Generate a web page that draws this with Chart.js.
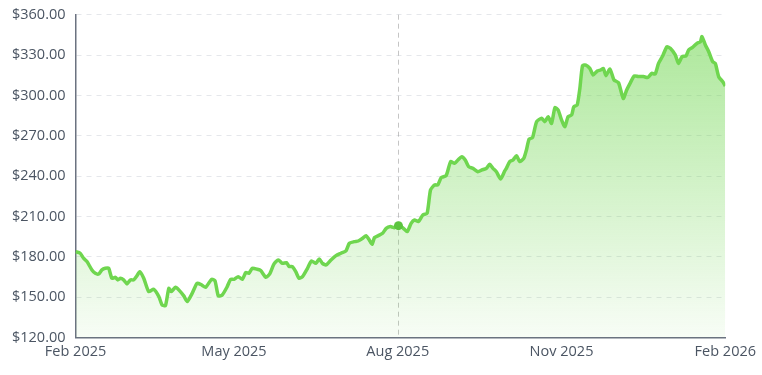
<!DOCTYPE html>
<html>
<head>
<meta charset="utf-8">
<script src="https://cdn.jsdelivr.net/npm/chart.js@4/dist/chart.umd.min.js"></script>
<style>
html,body{margin:0;padding:0;background:#fff;overflow:hidden;}
#wrap{width:762px;height:379px;position:relative;margin-top:-4px;}
</style>
</head>
<body>
<div id="wrap"><canvas id="c"></canvas></div>
<script>
// Days since 1 Feb 2025
const days = [0,2.6,4.5,6.4,9.2,11.1,13,14.8,16.7,18.6,20.4,22.4,23.7,25.2,27,28.9,30.8,32.7,34.5,36,38.3,41.1,43.9,46.8,48.6,50.5,52.4,53.7,56.2,58,60.8,62.7,65.5,68.3,70.8,73.1,76.4,78.3,80.2,82.4,85.2,87.1,89,91.4,93.7,95.6,97.4,99.3,102.1,104,106.9,109.1,111.5,113.9,116.2,118.5,120,121.8,123.7,125.6,127.5,130.3,132.5,135,136.9,138.7,140.7,143.5,146.3,149.1,151.9,153.8,156.6,158.8,161.3,163.2,165,166.6,167.9,170.1,172.5,174.5,176.9,179.1,181.4,183.8,186.3,188.5,190.4,192.6,195.1,197.5,199.4,201.7,203.5,205.4,208.2,210.7,212.9,214.8,217,218.9,220.8,223.2,226,228.3,230.8,232.6,234.5,236.4,238.8,241.1,242,243.9,245.8,247.7,249.5,251.8,253.3,254.8,256.7,259,261.8,263.6,265.5,267.4,269.3,271.1,273,274.9,276.7,278.7,279.9,281.8,283.3,284.8,286.7,288.9,290.8,293.1,295,296.5,298,300.2,302.5,305,307.7,309.6,311.5,313.9,316.2,319,321.5,323.7,325.6,327.5,329.8,332.2,334.1,336.9,338.7,340.7,342.9,344.4,346.6,349.1,351,351.9,353.8,355.7,357.9,359.4,361.3,363.6,365];
const prices = [183.9,182.7,179,176.5,170.3,167.8,167.3,170.3,171.5,171.5,164.1,164.8,162.9,164.1,162.9,159.9,162.9,162.9,165.9,169,164.1,154.2,155.9,150.5,144.3,143.8,156.6,154.2,157.4,155.5,151,146.8,152.9,160.4,159.2,157.4,163.3,162.4,151,151.7,157.9,163.3,163.3,165.3,163.3,168.3,167.8,171.5,170.8,169.8,164.8,167.3,174.8,177.7,175.2,175.7,172.8,172.8,169,164.1,165.3,171.5,177,175.2,178.5,175.2,174,177.7,180.9,182.7,184.4,190.1,191.3,191.8,193.8,195.8,192.6,189.3,194.3,195.8,197.5,201.2,202.5,201.7,203.2,201.7,198.8,204.9,207.4,206.2,211.2,212.4,229.7,233.5,233.5,238.9,240.4,250.8,249.5,252,254.5,252,247.1,245.8,243.3,244.6,245.8,248.8,245.8,243.3,237.9,243.9,245.8,250.8,252,255.2,250.8,253.2,259.5,267.6,268.6,280.5,283,280.5,284.2,279.2,290.9,289.2,281.8,276.8,284.2,285.5,291.6,292.9,305.2,322.1,322.6,320.1,315.2,318.2,318.9,320.1,314.7,319.7,311.5,309.5,297.8,304,309,314.5,314,314,313.4,316.4,315.9,323.8,329.3,336.2,335,330.1,323.8,328.8,329.3,333.8,335.7,338.7,339.9,343.7,337.5,332.5,325.1,323.8,313.9,310.2,307];
const tickDays = [0,89,181,273,365];
const tickLabels = ['Feb 2025','May 2025','Aug 2025','Nov 2025','Feb 2026'];
const yTicks = [120,150,180,210,240,270,300,330,360];
const activeIndex = 84; // hovered point (1 Aug 2025)

const points = days.map((d,i)=>({x:d,y:prices[i]}));
const lineColor = '#6fd64f';
const fontSpec = {family:'"Open Sans", "Noto Sans", sans-serif',size:14.5};

const crosshair = {
  id:'crosshair',
  beforeDatasetsDraw(chart){
    const {ctx, chartArea, scales} = chart;
    const x = Math.round(scales.x.getPixelForValue(days[activeIndex]))+0.5;
    ctx.save();
    ctx.strokeStyle = 'rgba(150,150,150,0.55)';
    ctx.lineWidth = 1;
    ctx.setLineDash([5,4]);
    ctx.beginPath();
    ctx.moveTo(x, chartArea.top);
    ctx.lineTo(x, chartArea.bottom);
    ctx.stroke();
    ctx.restore();
  }
};

const ctx = document.getElementById('c').getContext('2d');
new Chart(ctx, {
  type:'line',
  data:{datasets:[{
    data:points,
    borderColor:lineColor,
    borderWidth:3.5,
    tension:0.2,
    fill:'start',
    backgroundColor:(c)=>{
      const ca = c.chart.chartArea;
      if(!ca) return 'rgba(111,214,79,0.3)';
      const g = c.chart.ctx.createLinearGradient(0, ca.top, 0, ca.bottom);
      g.addColorStop(0,'rgba(111,214,79,0.6)');
      g.addColorStop(1,'rgba(111,214,79,0.05)');
      return g;
    },
    pointRadius:(c)=>c.dataIndex===activeIndex?4.5:0,
    pointBackgroundColor:'#5cc43f',
    pointBorderWidth:0,
    pointHoverRadius:0
  }]},
  options:{
    responsive:true,
    maintainAspectRatio:false,
    animation:false,
    events:[],
    layout:{padding:{top:0,right:4,left:2,bottom:8}},
    plugins:{legend:{display:false},tooltip:{enabled:false}},
    scales:{
      x:{
        type:'linear',
        min:0,max:365,
        afterBuildTicks:(s)=>{s.ticks = tickDays.map(v=>({value:v}));},
        ticks:{
          autoSkip:false,maxRotation:0,
          color:'#4b5563',
          font:fontSpec,
          callback:(v)=>tickLabels[tickDays.indexOf(v)] ?? '',
          padding:6
        },
        grid:{display:false,drawTicks:false},
        border:{display:true,color:'#6b7280',width:1.5}
      },
      y:{
        min:120,max:360,
        afterBuildTicks:(s)=>{s.ticks = yTicks.map(v=>({value:v}));},
        ticks:{
          color:'#4b5563',
          font:fontSpec,
          callback:(v)=>'$'+Number(v).toFixed(2),
          padding:10
        },
        grid:{color:'#e5e7eb',lineWidth:1,drawTicks:false},
        border:{display:true,color:'#6b7280',width:1.5,dash:[5,5]}
      }
    }
  },
  plugins:[crosshair]
});
</script>
</body>
</html>
